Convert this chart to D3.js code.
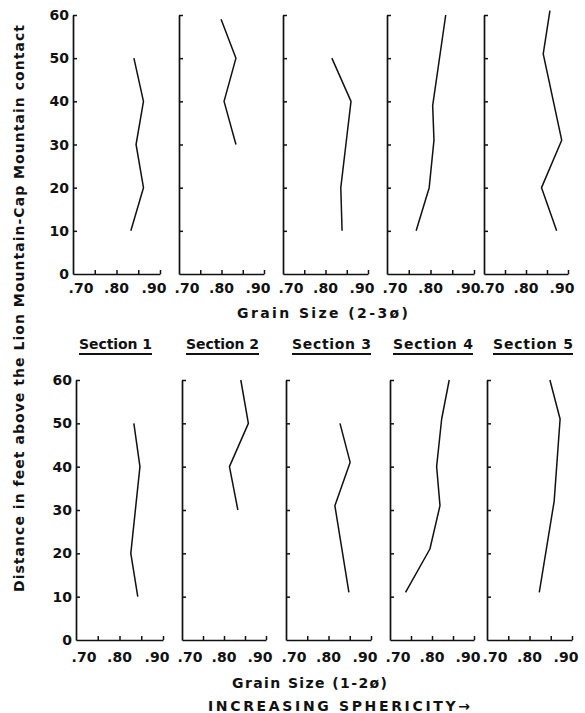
<!DOCTYPE html>
<html>
<head>
<meta charset="utf-8">
<script src="https://cdn.jsdelivr.net/npm/d3@7"></script>
<style>
  html, body { margin: 0; padding: 0; background: #fff; }
  svg { display: block; }
  text { font-family: "DejaVu Sans", sans-serif; font-weight: bold; fill: #111; }
</style>
</head>
<body>
<svg id="chart" width="585" height="713"></svg>
<script>
// ---------------- data ----------------
const sections = ["Section 1", "Section 2", "Section 3", "Section 4", "Section 5"];
const heightTicks = [0, 10, 20, 30, 40, 50, 60];
const sphericityTicks = [0.75, 0.80, 0.85, 0.90];
const sphericityLabels = [".70", ".80", ".90"];
const sphericityLabelValues = [0.70, 0.80, 0.90];

// Grain size 2-3 phi (upper row): heights (ft) and sphericity values
const fineHeights = [
  [10, 20, 30, 40, 50],
  [30, 40, 50, 59],
  [10, 20, 30, 40, 50],
  [10, 20, 31, 39, 60],
  [10, 20, 31, 51, 61]
];
const fineValues = [
  [0.833, 0.862, 0.845, 0.862, 0.840],
  [0.834, 0.806, 0.834, 0.799],
  [0.839, 0.836, 0.848, 0.860, 0.815],
  [0.767, 0.797, 0.808, 0.805, 0.835],
  [0.873, 0.837, 0.885, 0.841, 0.857]
];

// Grain size 1-2 phi (lower row)
const coarseHeights = [
  [10, 20, 40, 50],
  [30, 40, 50, 60],
  [11, 31, 41, 50],
  [11, 21, 31, 40, 51, 60],
  [11, 32, 51, 60]
];
const coarseValues = [
  [0.842, 0.826, 0.847, 0.833],
  [0.833, 0.813, 0.858, 0.840],
  [0.848, 0.815, 0.851, 0.827],
  [0.737, 0.795, 0.819, 0.811, 0.823, 0.841],
  [0.823, 0.858, 0.872, 0.848]
];

// ---------------- layout ----------------
const svg = d3.select("#chart");
const rows = [
  { heights: fineHeights, values: fineValues, yRange: [274, 15],
    xRanges: [[73,160],[179,264],[283,368],[387,474],[484,568]],
    labelBaseline: 293, title: "Grain Size (2-3ø)", titleX: [237, 408], titleY: 318 },
  { heights: coarseHeights, values: coarseValues, yRange: [640, 380],
    xRanges: [[76,163],[182,266],[286,371],[390,474],[487,572]],
    labelBaseline: 662, title: "Grain Size (1-2ø)", titleX: [232, 387], titleY: 688 }
];
const labelDx = [8, 0, -6];

rows.forEach(row => {
  const y = d3.scaleLinear().domain([0, 60]).range(row.yRange);
  row.xRanges.forEach((rng, i) => {
    const x = d3.scaleLinear().domain([0.70, 0.90]).range(rng);
    const g = svg.append("g");

    // y axis (ticks inward)
    const ya = g.append("g")
      .attr("transform", `translate(${rng[0]},0)`)
      .call(d3.axisRight(y).tickValues(heightTicks.slice(1)).tickSize(4).tickSizeOuter(0).tickFormat(""));
    ya.select(".domain").attr("stroke", "#111").attr("stroke-width", 1.7);
    ya.selectAll(".tick line").attr("stroke", "#111").attr("stroke-width", 1.5);

    // x axis (ticks inward)
    const xa = g.append("g")
      .attr("transform", `translate(0,${y(0)})`)
      .call(d3.axisTop(x).tickValues(sphericityTicks).tickSize(4).tickSizeOuter(0).tickFormat(""));
    xa.select(".domain").attr("stroke", "#111").attr("stroke-width", 1.7);
    xa.selectAll(".tick line").attr("stroke", "#111").attr("stroke-width", 1.5);

    // x tick labels
    g.selectAll("text.xl").data(sphericityLabelValues).enter().append("text")
      .attr("class", "xl")
      .attr("x", (d, k) => x(d) + labelDx[k])
      .attr("y", row.labelBaseline)
      .attr("text-anchor", "middle")
      .attr("font-size", 14)
      .text((d, k) => sphericityLabels[k]);

    // y tick labels only on first panel
    if (i === 0) {
      g.selectAll("text.yl").data(heightTicks).enter().append("text")
        .attr("class", "yl")
        .attr("x", rng[0] - 4)
        .attr("y", d => y(d))
        .attr("dy", "0.36em")
        .attr("text-anchor", "end")
        .attr("font-size", 14)
        .text(d => d);
    }

    // data line
    const pts = row.heights[i].map((h, k) => [row.values[i][k], h]);
    g.append("path")
      .datum(pts)
      .attr("fill", "none")
      .attr("stroke", "#111")
      .attr("stroke-width", 1.5)
      .attr("stroke-linejoin", "round")
      .attr("d", d3.line().x(d => x(d[0])).y(d => y(d[1])));
  });

  // row title
  svg.append("text")
    .attr("x", row.titleX[0])
    .attr("y", row.titleY)
    .attr("font-size", 14)
    .attr("textLength", row.titleX[1] - row.titleX[0])
    .attr("lengthAdjust", "spacing")
    .text(row.title);
});

// Section labels with underline
const sectionSpans = [[79,152],[186,259],[292,371],[393,473],[493,573]];
sections.forEach((s, i) => {
  const [a, b] = sectionSpans[i];
  svg.append("text")
    .attr("x", a).attr("y", 349)
    .attr("font-size", 14)
    .attr("textLength", b - a)
    .attr("lengthAdjust", "spacing")
    .text(s);
  svg.append("line")
    .attr("x1", a).attr("x2", b)
    .attr("y1", 354).attr("y2", 354)
    .attr("stroke", "#111").attr("stroke-width", 2);
});

// Y axis title (rotated)
svg.append("text")
  .attr("transform", "translate(24,592) rotate(-90)")
  .attr("x", 0).attr("y", 0)
  .attr("font-size", 14)
  .attr("textLength", 567)
  .attr("lengthAdjust", "spacing")
  .text("Distance in feet above the Lion Mountain-Cap Mountain contact");

// bottom caption
svg.append("text")
  .attr("x", 208).attr("y", 711)
  .attr("font-size", 14)
  .attr("textLength", 262)
  .attr("lengthAdjust", "spacing")
  .text("INCREASING  SPHERICITY→");
</script>
</body>
</html>
